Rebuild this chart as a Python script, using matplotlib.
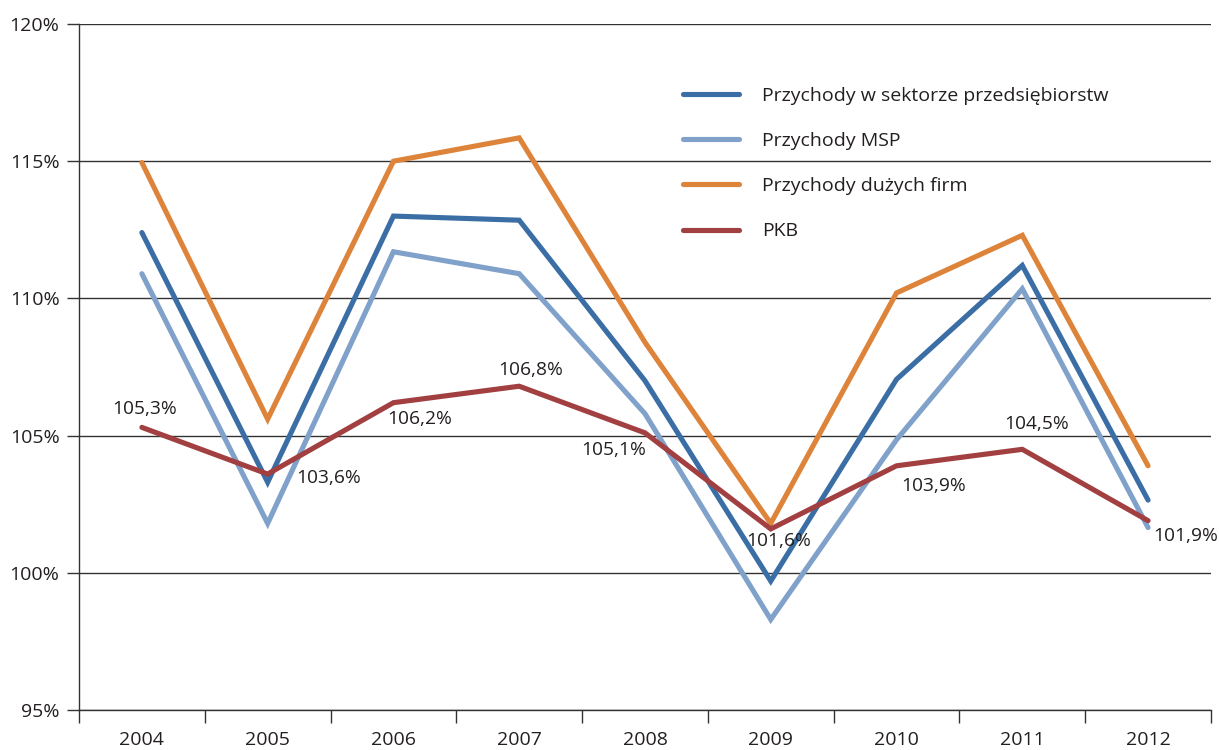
import matplotlib.pyplot as plt

years = ['2004', '2005', '2006', '2007', '2008', '2009', '2010', '2011', '2012']
sektor = [112.4, 103.3, 113.0, 112.85, 107.0, 99.7, 107.05, 111.2, 102.65]
msp = [110.9, 101.8, 111.7, 110.9, 105.8, 98.3, 104.85, 110.35, 101.65]
duze = [114.95, 105.6, 115.0, 115.85, 108.4, 101.8, 110.2, 112.3, 103.9]
pkb = [105.3, 103.6, 106.2, 106.8, 105.1, 101.6, 103.9, 104.5, 101.9]

series_names = ['Przychody w sektorze przedsiębiorstw', 'Przychody MSP',
                'Przychody dużych firm', 'PKB']
colors = ['#3a6ea5', '#7fa1ca', '#dd843a', '#a23f40']

# label placement for the PKB values (pixel offsets, alignment)
label_pos = [((3, 18), 'center'), ((29, -4), 'left'), ((-6, -16), 'left'),
             ((11, 16), 'center'), ((1, -17), 'right'), ((8, -12), 'center'),
             ((5, -20), 'left'), ((14, 25), 'center'), ((5, -15), 'left')]

plt.rcParams['font.family'] = ['Open Sans', 'DejaVu Sans']

fig = plt.figure(figsize=(12.19, 7.5), dpi=100)
ax = fig.add_axes([0.0648, 0.0533, 0.9286, 0.9147])

x = list(range(len(years)))
for vals, name, c in zip([sektor, msp, duze, pkb], series_names, colors):
    ax.plot(x, vals, color=c, lw=3.7, label=name, solid_capstyle='round',
            solid_joinstyle='miter', zorder=3)

for i, v in enumerate(pkb):
    (dx, dy), ha = label_pos[i]
    ax.annotate(('%.1f%%' % v).replace('.', ','), (i, v), xytext=(dx, dy),
                textcoords='offset pixels', ha=ha, va='center',
                fontsize=13.8, color='#231f20', zorder=4)

ax.set_xlim(-0.5, len(years) - 0.5)
ax.set_ylim(95, 120)
ax.set_yticks([95, 100, 105, 110, 115, 120])
ax.set_yticklabels(['%d%%' % t for t in [95, 100, 105, 110, 115, 120]])
ax.set_xticks(x)
ax.set_xticklabels(years)
ax.set_xticks([i - 0.5 for i in range(len(years) + 1)], minor=True)
ax.tick_params(axis='x', which='major', length=0, pad=15, labelsize=14, labelcolor='#231f20')
ax.tick_params(axis='x', which='minor', length=9, width=1, color='#333333', direction='out')
ax.tick_params(axis='y', length=9, width=1, color='#333333', pad=5, labelsize=14,
               labelcolor='#231f20')

ax.grid(axis='y', color='#333333', lw=1)
ax.set_axisbelow(True)
for s in ['top', 'right']:
    ax.spines[s].set_visible(False)
for s in ['left', 'bottom']:
    ax.spines[s].set_color('#333333')
    ax.spines[s].set_linewidth(1)

leg = ax.legend(loc='upper left', bbox_to_anchor=(0.518, 0.934), frameon=False,
                fontsize=14, handlelength=2.9, handletextpad=1.18, labelspacing=1.4)
for t in leg.get_texts():
    t.set_color('#231f20')

fig.savefig('out.png', dpi=100)
